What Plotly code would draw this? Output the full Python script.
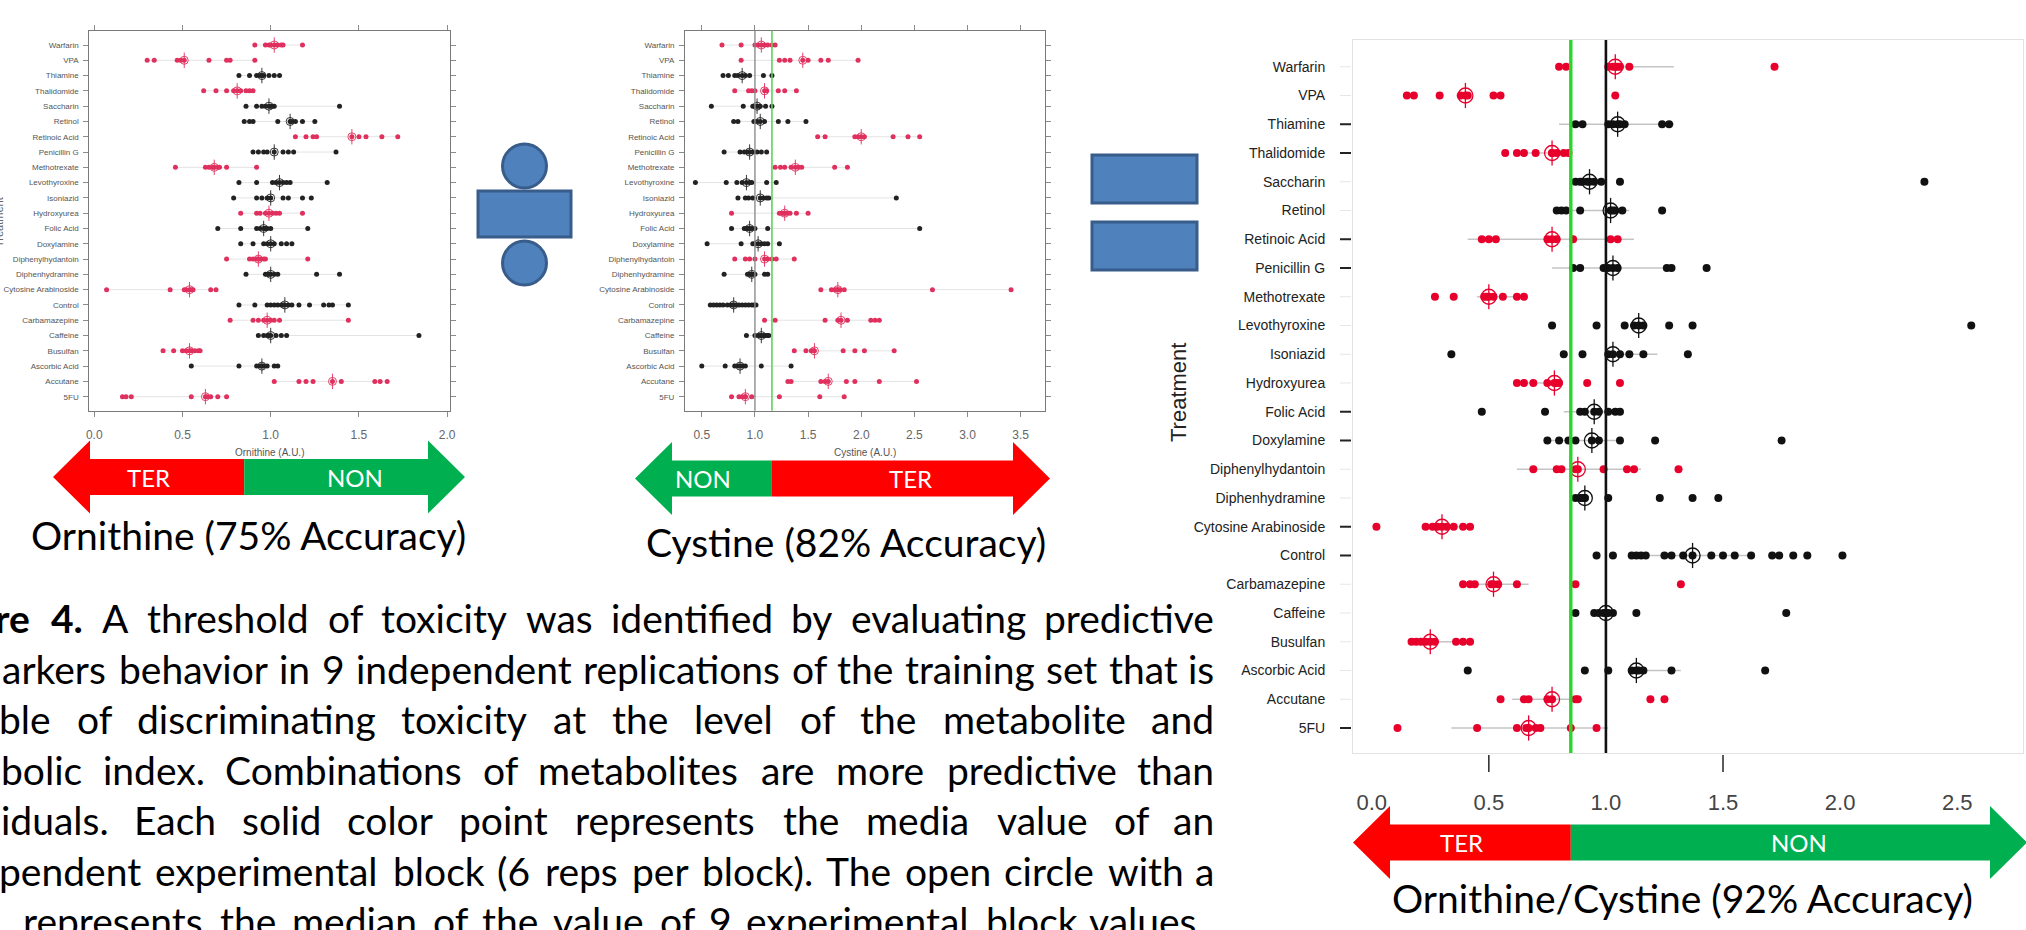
import numpy as np
import plotly.graph_objects as go

W, H = 2026, 930

# ---------------------------------------------------------------- data
treatments = ["Warfarin", "VPA", "Thiamine", "Thalidomide", "Saccharin", "Retinol",
              "Retinoic Acid", "Penicillin G", "Methotrexate", "Levothyroxine",
              "Isoniazid", "Hydroxyurea", "Folic Acid", "Doxylamine",
              "Diphenylhydantoin", "Diphenhydramine", "Cytosine Arabinoside",
              "Control", "Carbamazepine", "Caffeine", "Busulfan", "Ascorbic Acid",
              "Accutane", "5FU"]
teratogen = [1, 1, 0, 1, 0, 0, 1, 0, 1, 0, 0, 1, 0, 0, 1, 0, 1, 0, 1, 0, 1, 0, 1, 1]

# block medians per treatment (one list per treatment, same order as above)
ornithine_blocks = [
    [0.91, 0.97, 0.99, 1.00, 1.02, 1.04, 1.06, 1.07, 1.18],
    [0.30, 0.34, 0.47, 0.49, 0.51, 0.65, 0.75, 0.77, 0.91],
    [0.82, 0.88, 0.92, 0.94, 0.95, 0.96, 0.99, 1.02, 1.05],
    [0.62, 0.69, 0.75, 0.79, 0.81, 0.83, 0.86, 0.88, 0.90],
    [0.86, 0.92, 0.95, 0.97, 0.99, 1.00, 1.01, 1.02, 1.39],
    [0.85, 0.88, 0.90, 1.04, 1.11, 1.12, 1.14, 1.18, 1.25],
    [1.14, 1.20, 1.24, 1.26, 1.46, 1.50, 1.54, 1.63, 1.72],
    [0.90, 0.93, 0.96, 0.98, 1.02, 1.07, 1.10, 1.13, 1.37],
    [0.46, 0.63, 0.65, 0.67, 0.68, 0.70, 0.71, 0.75, 0.92],
    [0.82, 0.92, 1.01, 1.03, 1.05, 1.07, 1.09, 1.11, 1.32],
    [0.79, 0.92, 0.95, 0.98, 1.00, 1.07, 1.10, 1.18, 1.23],
    [0.83, 0.92, 0.94, 0.97, 0.99, 1.01, 1.03, 1.05, 1.18],
    [0.70, 0.83, 0.92, 0.94, 0.96, 0.97, 0.98, 1.00, 1.21],
    [0.83, 0.90, 0.96, 0.98, 1.00, 1.02, 1.06, 1.09, 1.12],
    [0.75, 0.88, 0.90, 0.92, 0.93, 0.94, 0.96, 0.97, 1.21],
    [0.86, 0.97, 0.98, 0.99, 1.00, 1.02, 1.04, 1.26, 1.39],
    [0.07, 0.43, 0.51, 0.52, 0.54, 0.55, 0.56, 0.66, 0.69],
    [0.82, 0.91, 0.98, 1.00, 1.02, 1.04, 1.06, 1.07, 1.08, 1.10, 1.12, 1.16,
     1.22, 1.30, 1.33, 1.35, 1.44],
    [0.77, 0.90, 0.93, 0.96, 0.98, 1.00, 1.02, 1.05, 1.44],
    [0.93, 0.96, 0.98, 0.99, 1.00, 1.03, 1.06, 1.09, 1.84],
    [0.39, 0.45, 0.50, 0.52, 0.54, 0.55, 0.57, 0.59, 0.60],
    [0.55, 0.82, 0.92, 0.94, 0.95, 0.96, 0.98, 1.02, 1.04],
    [1.02, 1.16, 1.20, 1.24, 1.35, 1.40, 1.59, 1.62, 1.66],
    [0.16, 0.18, 0.21, 0.55, 0.63, 0.64, 0.66, 0.70, 0.75],
]

cystine_blocks = [
    [0.69, 0.87, 1.00, 1.03, 1.06, 1.09, 1.12, 1.16, 1.19],
    [0.87, 1.23, 1.28, 1.33, 1.45, 1.50, 1.62, 1.69, 1.97],
    [0.70, 0.75, 0.81, 0.84, 0.88, 0.91, 0.95, 1.08, 1.16],
    [0.81, 0.94, 0.97, 1.00, 1.09, 1.11, 1.22, 1.28, 1.39],
    [0.59, 0.89, 0.98, 1.00, 1.02, 1.04, 1.05, 1.10, 1.16],
    [0.80, 0.84, 0.99, 1.02, 1.05, 1.09, 1.22, 1.31, 1.48],
    [1.59, 1.66, 1.94, 1.97, 2.00, 2.03, 2.30, 2.44, 2.55],
    [0.71, 0.86, 0.90, 0.93, 0.95, 0.98, 1.02, 1.06, 1.11],
    [1.19, 1.24, 1.28, 1.34, 1.38, 1.41, 1.44, 1.75, 1.87],
    [0.44, 0.73, 0.83, 0.88, 0.92, 0.95, 0.97, 1.11, 1.20],
    [0.84, 0.91, 0.94, 0.98, 1.05, 1.08, 1.11, 1.13, 2.33],
    [0.78, 1.23, 1.25, 1.27, 1.28, 1.30, 1.33, 1.39, 1.50],
    [0.78, 0.90, 0.92, 0.93, 0.95, 0.97, 1.00, 1.12, 2.55],
    [0.55, 0.87, 0.98, 1.00, 1.03, 1.06, 1.09, 1.12, 1.23],
    [0.81, 0.91, 0.95, 1.00, 1.09, 1.12, 1.16, 1.20, 1.37],
    [0.71, 0.93, 0.95, 0.96, 0.97, 0.98, 1.00, 1.09, 1.12],
    [1.62, 1.72, 1.75, 1.77, 1.78, 1.80, 1.84, 2.67, 3.41],
    [0.58, 0.61, 0.64, 0.67, 0.70, 0.74, 0.77, 0.79, 0.80, 0.82, 0.85, 0.88,
     0.91, 0.94, 0.97, 0.99, 1.01],
    [1.09, 1.19, 1.66, 1.78, 1.81, 1.87, 2.09, 2.13, 2.17],
    [0.92, 1.00, 1.03, 1.05, 1.06, 1.08, 1.10, 1.12, 1.13],
    [1.37, 1.48, 1.53, 1.55, 1.56, 1.83, 1.94, 2.03, 2.31],
    [0.50, 0.72, 0.81, 0.84, 0.86, 0.88, 0.91, 1.06, 1.34],
    [1.31, 1.34, 1.62, 1.66, 1.69, 1.86, 1.94, 2.17, 2.52],
    [0.78, 0.85, 0.88, 0.91, 0.91, 0.97, 1.23, 1.61, 1.84],
]

ratio_blocks = [
    [0.80, 0.83, 1.01, 1.03, 1.04, 1.05, 1.06, 1.10, 1.72],
    [0.15, 0.18, 0.29, 0.38, 0.40, 0.41, 0.52, 0.55, 1.04],
    [0.87, 0.90, 1.01, 1.03, 1.05, 1.06, 1.08, 1.24, 1.27],
    [0.57, 0.62, 0.65, 0.70, 0.77, 0.77, 0.79, 0.82, 0.84],
    [0.87, 0.89, 0.90, 0.92, 0.93, 0.95, 0.98, 1.06, 2.36],
    [0.79, 0.81, 0.83, 0.89, 1.02, 1.03, 1.04, 1.07, 1.24],
    [0.47, 0.50, 0.53, 0.75, 0.77, 0.79, 0.86, 1.02, 1.05],
    [0.86, 0.89, 0.99, 1.01, 1.03, 1.05, 1.26, 1.28, 1.43],
    [0.27, 0.35, 0.48, 0.49, 0.50, 0.52, 0.56, 0.62, 0.65],
    [0.77, 0.96, 1.08, 1.12, 1.14, 1.16, 1.27, 1.37, 2.56],
    [0.34, 0.82, 0.90, 1.01, 1.03, 1.06, 1.10, 1.16, 1.35],
    [0.62, 0.65, 0.69, 0.75, 0.78, 0.79, 0.80, 0.92, 1.06],
    [0.47, 0.74, 0.89, 0.91, 0.95, 0.97, 1.01, 1.04, 1.06],
    [0.75, 0.80, 0.84, 0.87, 0.94, 0.97, 1.06, 1.21, 1.75],
    [0.69, 0.79, 0.81, 0.87, 0.88, 0.99, 1.09, 1.12, 1.31],
    [0.87, 0.89, 0.90, 0.91, 0.91, 1.01, 1.23, 1.37, 1.48],
    [0.02, 0.23, 0.26, 0.28, 0.30, 0.32, 0.35, 0.39, 0.42],
    [0.96, 1.03, 1.11, 1.13, 1.15, 1.17, 1.25, 1.28, 1.33, 1.37, 1.45, 1.50,
     1.55, 1.62, 1.71, 1.74, 1.80, 1.86, 2.01],
    [0.39, 0.42, 0.44, 0.51, 0.52, 0.54, 0.62, 0.87, 1.32],
    [0.87, 0.95, 0.97, 0.99, 1.00, 1.01, 1.03, 1.13, 1.77],
    [0.17, 0.19, 0.21, 0.23, 0.25, 0.27, 0.36, 0.39, 0.42],
    [0.41, 0.91, 1.01, 1.11, 1.13, 1.14, 1.16, 1.28, 1.68],
    [0.55, 0.65, 0.67, 0.75, 0.77, 0.87, 0.88, 1.19, 1.25],
    [0.11, 0.45, 0.62, 0.66, 0.67, 0.70, 0.72, 0.85, 0.96],
]

# interval drawn behind each ratio row (None = not drawn)
ratio_band_low = [1.04, None, 0.80, 0.62, 0.87, 0.79, 0.41, 0.77, 0.45, None, 1.00, 0.62,
                  0.82, 0.75, 0.62, None, 0.23, 1.11, 0.44, None, 0.20, 1.10, 0.60, 0.34]
ratio_band_high = [1.29, None, 1.29, 0.85, 1.00, 1.10, 1.12, 1.28, 0.66, None, 1.22, 0.80,
                   1.05, 1.07, 1.15, None, 0.42, 1.62, 0.67, None, 0.42, 1.32, 0.90, 1.01]

ornithine_threshold = 0.85
cystine_threshold = 1.16
cystine_reference = 1.0
ratio_threshold = 0.85
ratio_reference = 1.0

ornithine_ticks = [0.0, 0.5, 1.0, 1.5, 2.0]
cystine_ticks = [0.5, 1.0, 1.5, 2.0, 2.5, 3.0, 3.5]
ratio_ticks = [0.0, 0.5, 1.0, 1.5, 2.0, 2.5]
ratio_marked_ticks = [0.5, 1.5]
ratio_dashed_rows = ["Thiamine", "Thalidomide", "Retinoic Acid", "Penicillin G", "Folic Acid",
                     "Doxylamine", "Cytosine Arabinoside", "Control", "5FU"]

panel_labels = ["Ornithine (75% Accuracy)", "Cystine (82% Accuracy)",
                "Ornithine/Cystine (92% Accuracy)"]
caption_lines = [
    "re 4. A threshold of toxicity was identified by evaluating predictive",
    "arkers behavior in 9 independent replications of the training set that is",
    "ble of discriminating toxicity at the level of the metabolite and",
    "bolic index. Combinations of metabolites are more predictive than",
    "iduals. Each solid color point represents the media value of an",
    "pendent experimental block (6 reps per block). The open circle with a",
    "represents the median of the value of 9 experimental block values.",
]

# ---------------------------------------------------------------- geometry (pixels)
PANELS = {
    "orn": dict(x0=89.3, x1=450.0, y0=30.7, y1=410.7, xr=(-0.028, 2.016), yr=(23.916, -0.935)),
    "cys": dict(x0=685.0, x1=1045.0, y0=30.7, y1=410.7, xr=(0.342, 3.729), yr=(23.916, -0.935)),
    "rat": dict(x0=1353.0, x1=2023.0, y0=40.0, y1=753.0, xr=(-0.08, 2.781), yr=(23.87, -0.93)),
}

RED = "#e8002c"
RED_SOFT = "#e0305e"
BLACK = "#111111"
ARROW_RED = "#ff0000"
ARROW_GREEN = "#00b050"
BLUE_FILL = "#4f81bd"
BLUE_EDGE = "#385d8a"
TEXT_FONT = "Lato, 'Open Sans', sans-serif"
AXIS_FONT = "'Liberation Sans', Arial, sans-serif"


def px(x):
    return x / W


def py(y):
    return 1 - y / H


def data_to_px(panel, v):
    p = PANELS[panel]
    r0, r1 = p["xr"]
    return p["x0"] + (v - r0) / (r1 - r0) * (p["x1"] - p["x0"])


fig = go.Figure()


def draw_panel(blocks, xa, ya, dot, ring, red, black, lo=None, hi=None,
               band_color="#e3e3e3", band_width=1.0, ring_width=1.0):
    if lo is None:
        lo = [min(b) for b in blocks]
        hi = [max(b) for b in blocks]
    bx, by = [], []
    for i, (a, b) in enumerate(zip(lo, hi)):
        if a is None:
            continue
        bx += [a, b, None]
        by += [i, i, None]
    common = dict(xaxis=xa, yaxis=ya, hoverinfo="skip", showlegend=False)
    fig.add_trace(go.Scatter(x=bx, y=by, mode="lines",
                             line=dict(color=band_color, width=band_width), **common))
    for flag, col in ((1, red), (0, black)):
        xs, ys, mx, my = [], [], [], []
        for i, b in enumerate(blocks):
            if teratogen[i] != flag:
                continue
            xs += b
            ys += [i] * len(b)
            mx.append(float(np.median(b)))
            my.append(i)
        fig.add_trace(go.Scatter(x=xs, y=ys, mode="markers",
                                 marker=dict(size=dot, color=col, line=dict(width=0)), **common))
        fig.add_trace(go.Scatter(x=mx, y=my, mode="markers",
                                 marker=dict(symbol="circle-open", size=ring, color=col,
                                             line=dict(width=ring_width, color=col)), **common))
        fig.add_trace(go.Scatter(x=mx, y=my, mode="markers",
                                 marker=dict(symbol="line-ns-open", size=ring + 3, color=col,
                                             line=dict(width=ring_width, color=col)), **common))


draw_panel(ornithine_blocks, "x", "y", 5, 8, RED_SOFT, "#222222", ring_width=0.9)
draw_panel(cystine_blocks, "x2", "y2", 5, 8, RED_SOFT, "#222222", ring_width=0.9)
draw_panel(ratio_blocks, "x3", "y3", 8, 15, RED, BLACK, lo=ratio_band_low, hi=ratio_band_high,
           band_color="#c4c4c4", band_width=1.6, ring_width=1.3)


def x_axis(panel, tick_values, fmt, size, color, **kw):
    p = PANELS[panel]
    d = dict(domain=[px(p["x0"]), px(p["x1"])], range=list(p["xr"]), tickvals=tick_values,
             ticktext=[fmt.format(t) for t in tick_values],
             tickfont=dict(size=size, color=color, family=AXIS_FONT),
             showgrid=False, zeroline=False, automargin=False, fixedrange=True)
    d.update(kw)
    return d


def y_axis(panel, size, color, **kw):
    p = PANELS[panel]
    d = dict(domain=[py(p["y1"]), py(p["y0"])], range=list(p["yr"]),
             tickvals=list(range(len(treatments))), ticktext=treatments,
             tickfont=dict(size=size, color=color, family=AXIS_FONT),
             showgrid=False, zeroline=False, automargin=False, fixedrange=True)
    d.update(kw)
    return d


small_frame = dict(showline=True, mirror="ticks", linecolor="#7a7a7a", linewidth=1,
                   ticks="outside", ticklen=5, tickcolor="#8a8a8a", tickwidth=1)

fig.update_layout(
    width=W, height=H, margin=dict(l=0, r=0, t=0, b=0),
    paper_bgcolor="white", plot_bgcolor="white", showlegend=False,
    font=dict(family=AXIS_FONT, color="#222222"),
    xaxis=x_axis("orn", ornithine_ticks, "{:.1f}", 12, "#666666", anchor="y",
                 ticklabelstandoff=8, **small_frame),
    yaxis=y_axis("orn", 8, "#555555", anchor="x", ticklabelstandoff=3, **small_frame),
    xaxis2=x_axis("cys", cystine_ticks, "{:.1f}", 12, "#666666", anchor="y2",
                  ticklabelstandoff=8, **small_frame),
    yaxis2=y_axis("cys", 8, "#555555", anchor="x2", ticklabelstandoff=3, **small_frame),
    xaxis3=x_axis("rat", ratio_ticks, "{:.1f}", 22, "#444444", anchor="y3",
                  showline=True, mirror=True, linecolor="#e2e2e2", linewidth=1,
                  ticks="", ticklabelstandoff=30),
    yaxis3=y_axis("rat", 14, "#222222", anchor="x3", showline=True, mirror=True,
                  linecolor="#e2e2e2", linewidth=1, ticks="", ticklabelstandoff=24),
)

shapes = []

# reference / threshold lines
shapes.append(dict(type="line", xref="x2", yref="y2 domain", x0=cystine_reference,
                   x1=cystine_reference, y0=0, y1=1, line=dict(color="#8c8c8c", width=1.4),
                   layer="above"))
shapes.append(dict(type="line", xref="x2", yref="y2 domain", x0=cystine_threshold,
                   x1=cystine_threshold, y0=0, y1=1, line=dict(color="#5ad65a", width=1.6),
                   layer="above"))
shapes.append(dict(type="line", xref="x3", yref="y3 domain", x0=ratio_reference,
                   x1=ratio_reference, y0=0, y1=1, line=dict(color="#111111", width=2.6),
                   layer="above"))
shapes.append(dict(type="line", xref="x3", yref="y3 domain", x0=ratio_threshold,
                   x1=ratio_threshold, y0=0, y1=1, line=dict(color="#2bd62b", width=3.4),
                   layer="above"))

# tick marks under the ratio panel
rat_h = PANELS["rat"]["y1"] - PANELS["rat"]["y0"]
for v in ratio_marked_ticks:
    shapes.append(dict(type="line", xref="x3", yref="y3 domain", x0=v, x1=v,
                       y0=-2 / rat_h, y1=-19 / rat_h, line=dict(color="#333333", width=1.6)))

# row tick dashes left of the ratio panel
rat_w = PANELS["rat"]["x1"] - PANELS["rat"]["x0"]
for i, name in enumerate(treatments):
    dark = name in ratio_dashed_rows
    shapes.append(dict(type="line", xref="x3 domain", yref="y3", x0=-13 / rat_w, x1=-2 / rat_w,
                       y0=i, y1=i, line=dict(color="#222222" if dark else "#e6e6e6",
                                             width=2 if dark else 1)))


def poly(points):
    return "M " + " L ".join(f"{px(x):.5f},{py(y):.5f}" for x, y in points) + " Z"


def double_arrow(x_left, x_split, x_right, yc, left_color, right_color,
                 head_len=37, head_half=36.5, shaft_half=18):
    xl = x_left + head_len
    xr = x_right - head_len
    left = [(x_left, yc), (xl, yc - head_half), (xl, yc - shaft_half), (x_split, yc - shaft_half),
            (x_split, yc + shaft_half), (xl, yc + shaft_half), (xl, yc + head_half)]
    right = [(x_split, yc - shaft_half), (xr, yc - shaft_half), (xr, yc - head_half),
             (x_right, yc), (xr, yc + head_half), (xr, yc + shaft_half),
             (x_split, yc + shaft_half)]
    return [dict(type="path", xref="paper", yref="paper", path=poly(left),
                 fillcolor=left_color, line=dict(width=0)),
            dict(type="path", xref="paper", yref="paper", path=poly(right),
                 fillcolor=right_color, line=dict(width=0))]


orn_split = data_to_px("orn", ornithine_threshold)
cys_split = data_to_px("cys", cystine_threshold)
rat_split = data_to_px("rat", ratio_threshold)

arrows = [
    (53, orn_split, 465, 477, ARROW_RED, ARROW_GREEN, "TER", "NON"),
    (635, cys_split, 1050, 478.5, ARROW_GREEN, ARROW_RED, "NON", "TER"),
    (1353, rat_split, 2027, 842.5, ARROW_RED, ARROW_GREEN, "TER", "NON"),
]
for xa, xs, xb, yc, cl, cr, tl, tr in arrows:
    shapes += double_arrow(xa, xs, xb, yc, cl, cr)

# division sign
for cy in (166, 263):
    shapes.append(dict(type="circle", xref="paper", yref="paper", x0=px(502.5), x1=px(546.5),
                       y0=py(cy + 22), y1=py(cy - 22), fillcolor=BLUE_FILL,
                       line=dict(color=BLUE_EDGE, width=3)))
shapes.append(dict(type="rect", xref="paper", yref="paper", x0=px(478), x1=px(571),
                   y0=py(237), y1=py(191), fillcolor=BLUE_FILL,
                   line=dict(color=BLUE_EDGE, width=3)))
# equals sign
for top, bot in ((155, 203), (222, 270)):
    shapes.append(dict(type="rect", xref="paper", yref="paper", x0=px(1092), x1=px(1197),
                       y0=py(bot), y1=py(top), fillcolor=BLUE_FILL,
                       line=dict(color=BLUE_EDGE, width=3)))

annotations = []


def label(x, y, text, size, color="black", family=TEXT_FONT, xanchor="center", angle=0):
    annotations.append(dict(x=px(x), y=py(y), xref="paper", yref="paper", text=text,
                            showarrow=False, xanchor=xanchor, yanchor="middle",
                            textangle=angle, borderpad=0,
                            font=dict(size=size, color=color, family=family)))


# labels inside the arrows
for xa, xs, xb, yc, cl, cr, tl, tr in arrows:
    label((xa + xs) / 2, yc, tl, 24, "white")
    label((xs + xb) / 2, yc, tr, 24, "white")

# panel captions (baseline - 0.387 * size gives the box middle)
CAP = 39
label(248, 550 - 0.387 * CAP, panel_labels[0], CAP)
label(845.5, 556.7 - 0.387 * CAP, panel_labels[1], CAP)
label(1682.5, 913 - 0.387 * CAP, panel_labels[2], CAP)

# axis titles
label((PANELS["orn"]["x0"] + PANELS["orn"]["x1"]) / 2, 452, "Ornithine (A.U.)", 10, "#555555",
      AXIS_FONT)
label((PANELS["cys"]["x0"] + PANELS["cys"]["x1"]) / 2, 453, "Cystine (A.U.)", 10, "#555555",
      AXIS_FONT)
label(1178, 393, "Treatment", 22, "#222222", AXIS_FONT, angle=-90)
label(-1, 222, "Treatment", 11, "#666666", AXIS_FONT, angle=-90)

# justified caption paragraph
LATO_EM = {' ': 0.193, '.': 0.21, ',': 0.21, '(': 0.31, ')': 0.31, '%': 0.80, '/': 0.37,
           '-': 0.36, 'a': 0.50, 'b': 0.56, 'c': 0.47, 'd': 0.56, 'e': 0.53, 'f': 0.32,
           'g': 0.50, 'h': 0.56, 'i': 0.24, 'j': 0.24, 'k': 0.50, 'l': 0.24, 'm': 0.85,
           'n': 0.56, 'o': 0.56, 'p': 0.56, 'q': 0.56, 'r': 0.37, 's': 0.43, 't': 0.36,
           'u': 0.56, 'v': 0.51, 'w': 0.78, 'x': 0.49, 'y': 0.51, 'z': 0.45, 'A': 0.68,
           'C': 0.67, 'E': 0.56, 'T': 0.59, 'O': 0.79, 'N': 0.76, 'R': 0.62}


def text_width(s, size, bold=False):
    w = sum(LATO_EM.get(ch, 0.58) for ch in s) * size
    return w * (1.05 if bold else 1.0)


BODY = 39
line_left = [-6, 1, -2, 0, 0, -2, 22]
line_right = [1215, 1215, 1215, 1215, 1215, 1215, 1207]
bold_words = [2, 0, 0, 0, 0, 0, 0]
for k, line in enumerate(caption_lines):
    words = line.split(" ")
    base = 633.5 + 50.5 * k
    ymid = base - 0.387 * BODY
    widths = [text_width(w, BODY, j < bold_words[k]) for j, w in enumerate(words)]
    gap = (line_right[k] - line_left[k] - sum(widths)) / (len(words) - 1)
    x = line_left[k]
    for j, (w, wd) in enumerate(zip(words, widths)):
        txt = f"<b>{w}</b>" if j < bold_words[k] else w
        if j == len(words) - 1:
            label(line_right[k], ymid, txt, BODY, xanchor="right")
        else:
            label(x, ymid, txt, BODY, xanchor="left")
        x += wd + gap

fig.update_layout(shapes=shapes, annotations=annotations)
fig.write_html("out.html")
